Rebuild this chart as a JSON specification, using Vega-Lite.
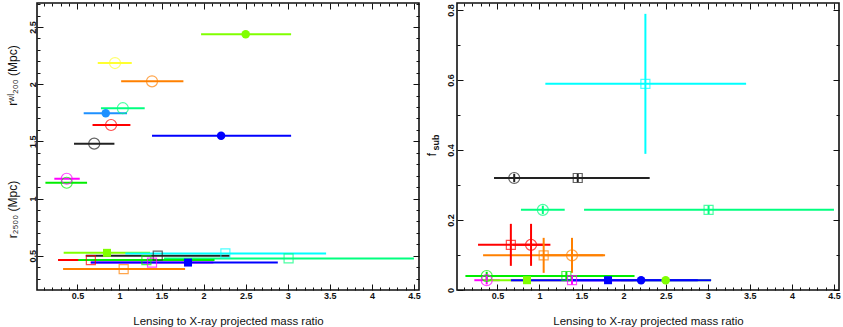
{
 "$schema": "https://vega.github.io/schema/vega-lite/v6.json",
 "background": "white",
 "padding": {"left": 5, "top": 1, "right": 5, "bottom": 0},
 "bounds": "flush",
 "spacing": 38,
 "config": {
  "view": {"stroke": "#111", "strokeWidth": 1.6},
  "font": "Liberation Sans",
  "axis": {"grid": false, "domain": false, "tickColor": "#111", "tickWidth": 1, "labelColor": "#111", "labelFont": "Liberation Sans", "labelFontSize": 9, "labelFontWeight": "bold", "labelOverlap": false, "labelFlush": false, "titleColor": "#111", "titleFont": "Liberation Sans", "titleFontWeight": "normal", "titleFontSize": 12}
 },
 "datasets": {
  "pts": [
   {"c": "c1", "k": "c", "fl": 0, "x": 0.70, "lo": 0.46, "hi": 0.94, "r": 1.48, "f": 0.32, "flo": 0.308, "fhi": 0.332},
   {"c": "c1", "k": "s", "fl": 0, "x": 1.455, "lo": 0.60, "hi": 2.31, "r": 0.50, "f": 0.32, "flo": 0.308, "fhi": 0.332},
   {"c": "c2", "k": "c", "fl": 0, "x": 1.04, "lo": 0.78, "hi": 1.30, "r": 1.79, "f": 0.229, "flo": 0.217, "fhi": 0.241},
   {"c": "c2", "k": "s", "fl": 0, "x": 3.01, "lo": 1.53, "hi": 4.50, "r": 0.476, "f": 0.229, "flo": 0.217, "fhi": 0.241},
   {"c": "c3", "k": "c", "fl": 0, "x": 0.90, "lo": 0.68, "hi": 1.13, "r": 1.643, "f": 0.129, "flo": 0.069, "fhi": 0.189},
   {"c": "c3", "k": "s", "fl": 0, "x": 0.66, "lo": 0.27, "hi": 1.05, "r": 0.462, "f": 0.129, "flo": 0.069, "fhi": 0.189},
   {"c": "c4", "k": "c", "fl": 0, "x": 1.387, "lo": 1.02, "hi": 1.76, "r": 2.025, "f": 0.099, "flo": 0.049, "fhi": 0.149},
   {"c": "c4", "k": "s", "fl": 0, "x": 1.05, "lo": 0.33, "hi": 1.78, "r": 0.383, "f": 0.099, "flo": 0.049, "fhi": 0.149},
   {"c": "c5", "k": "c", "fl": 0, "x": 0.373, "lo": 0.12, "hi": 0.615, "r": 1.138, "f": 0.04, "flo": 0.028, "fhi": 0.052},
   {"c": "c5", "k": "s", "fl": 0, "x": 1.32, "lo": 0.51, "hi": 2.13, "r": 0.462, "f": 0.04, "flo": 0.028, "fhi": 0.052},
   {"c": "c6", "k": "c", "fl": 0, "x": 0.373, "lo": 0.226, "hi": 0.528, "r": 1.173, "f": 0.028, "flo": 0.016, "fhi": 0.04},
   {"c": "c6", "k": "s", "fl": 0, "x": 1.387, "lo": 0.654, "hi": 2.116, "r": 0.44, "f": 0.028, "flo": 0.016, "fhi": 0.04},
   {"c": "c7", "k": "c", "fl": 1, "x": 2.50, "lo": 1.97, "hi": 3.04, "r": 2.436, "f": 0.028, "flo": null, "fhi": null},
   {"c": "c7", "k": "s", "fl": 1, "x": 0.852, "lo": 0.337, "hi": 1.364, "r": 0.525, "f": 0.028, "flo": null, "fhi": null},
   {"c": "c8", "k": "c", "fl": 1, "x": 2.208, "lo": 1.387, "hi": 3.04, "r": 1.549, "f": 0.028, "flo": null, "fhi": null},
   {"c": "c8", "k": "s", "fl": 1, "x": 1.815, "lo": 0.662, "hi": 2.882, "r": 0.44, "f": 0.028, "flo": null, "fhi": null},
   {"c": "c9", "k": "c", "fl": 0, "x": 0.947, "lo": 0.742, "hi": 1.146, "r": 2.185, "f": null, "flo": null, "fhi": null},
   {"c": "c10", "k": "c", "fl": 1, "x": 0.837, "lo": 0.575, "hi": 1.09, "r": 1.745, "f": null, "flo": null, "fhi": null},
   {"c": "c11", "k": "s", "fl": 0, "x": 2.259, "lo": 1.07, "hi": 3.456, "r": 0.52, "f": 0.589, "flo": 0.389, "fhi": 0.789}
  ]
 },
 "hconcat": [
  {
   "width": 382, "height": 287,
   "data": {"name": "pts"},
   "resolve": {"axis": {"x": "independent", "y": "independent"}},
   "layer": [
    {
     "mark": {"type": "rule", "strokeWidth": 2},
     "encoding": {
      "x": {"field": "lo", "type": "quantitative", "scale": {"domain": [0.02, 4.56], "nice": false, "zero": false},
       "axis": {"orient": "bottom", "values": [0.5,1,1.5,2,2.5,3,3.5,4,4.5], "format": "~g", "tickSize": -6,
        "labelPadding": 7, "labelBaseline": "top",
        "title": "Lensing to X-ray projected mass ratio", "titleFontSize": 11.5, "titleY": 34, "titleBaseline": "alphabetic"}},
      "x2": {"field": "hi"},
      "y": {"field": "r", "type": "quantitative", "scale": {"domain": [0.2, 2.71], "nice": false, "zero": false},
       "axis": {"orient": "left", "values": [0.5,1,1.5,2,2.5], "format": "~g", "tickSize": -6,
        "labelAngle": 270, "labelAlign": "center", "labelBaseline": "alphabetic", "labelPadding": 8,
        "title": "rʷˡ₂₀₀ (Mpc)", "titleX": -25, "titleY": 72, "titleAngle": 270, "titleAlign": "center", "titleBaseline": "middle"}},
      "color": {"field": "c", "type": "nominal", "legend": null,
       "scale": {"domain": ["c1","c2","c3","c4","c5","c6","c7","c8","c9","c10","c11"], "range": ["#222222","#00ff7f","#ff0000","#ff8000","#00ee00","#ff00ff","#80ff00","#0000ff","#ffff30","#1e90ff","#00ffff"]}}
     }
    },
    {
     "transform": [{"filter": "datum.k=='c' && datum.fl==0"}],
     "mark": {"type": "point", "shape": "circle", "filled": false, "size": 121, "strokeWidth": 1.2},
     "encoding": {
      "x": {"field": "x", "type": "quantitative", "scale": {"domain": [0.02, 4.56], "nice": false, "zero": false},
       "axis": {"orient": "top", "values": [0.5,1,1.5,2,2.5,3,3.5,4,4.5], "labels": false, "title": null, "tickSize": -6}},
      "y": {"field": "r", "type": "quantitative", "scale": {"domain": [0.2, 2.71], "nice": false, "zero": false},
       "axis": {"orient": "right", "values": [0.5,1,1.5,2,2.5], "labels": false, "title": null, "tickSize": -6}},
      "color": {"field": "c", "type": "nominal", "legend": null}
     }
    },
    {
     "transform": [{"filter": "datum.k=='c' && datum.fl==1"}],
     "mark": {"type": "point", "shape": "circle", "filled": true, "size": 72, "opacity": 1},
     "encoding": {
      "x": {"field": "x", "type": "quantitative", "scale": {"domain": [0.02, 4.56], "nice": false, "zero": false},
       "axis": {"orient": "bottom", "values": [0.1,0.2,0.3,0.4,0.6,0.7,0.8,0.9,1.1,1.2,1.3,1.4,1.6,1.7,1.8,1.9,2.1,2.2,2.3,2.4,2.6,2.7,2.8,2.9,3.1,3.2,3.3,3.4,3.6,3.7,3.8,3.9,4.1,4.2,4.3,4.4], "labels": false, "title": null, "tickSize": -3}},
      "y": {"field": "r", "type": "quantitative", "scale": {"domain": [0.2, 2.71], "nice": false, "zero": false},
       "axis": {"orient": "left", "values": [0.3,0.4,0.6,0.7,0.8,0.9,1.1,1.2,1.3,1.4,1.6,1.7,1.8,1.9,2.1,2.2,2.3,2.4,2.6,2.7], "labels": false, "tickSize": -3,
        "title": "r₂₅₀₀ (Mpc)", "titleX": -25, "titleY": 206, "titleAngle": 270, "titleAlign": "center", "titleBaseline": "middle"}},
      "color": {"field": "c", "type": "nominal", "legend": null}
     }
    },
    {
     "transform": [{"filter": "datum.k=='s' && datum.fl==0"}],
     "mark": {"type": "point", "shape": "square", "filled": false, "size": 81, "strokeWidth": 1.2},
     "encoding": {
      "x": {"field": "x", "type": "quantitative", "scale": {"domain": [0.02, 4.56], "nice": false, "zero": false},
       "axis": {"orient": "top", "values": [0.1,0.2,0.3,0.4,0.6,0.7,0.8,0.9,1.1,1.2,1.3,1.4,1.6,1.7,1.8,1.9,2.1,2.2,2.3,2.4,2.6,2.7,2.8,2.9,3.1,3.2,3.3,3.4,3.6,3.7,3.8,3.9,4.1,4.2,4.3,4.4], "labels": false, "title": null, "tickSize": -3}},
      "y": {"field": "r", "type": "quantitative", "scale": {"domain": [0.2, 2.71], "nice": false, "zero": false},
       "axis": {"orient": "right", "values": [0.3,0.4,0.6,0.7,0.8,0.9,1.1,1.2,1.3,1.4,1.6,1.7,1.8,1.9,2.1,2.2,2.3,2.4,2.6,2.7], "labels": false, "title": null, "tickSize": -3}},
      "color": {"field": "c", "type": "nominal", "legend": null}
     }
    },
    {
     "transform": [{"filter": "datum.k=='s' && datum.fl==1"}],
     "mark": {"type": "point", "shape": "square", "filled": true, "size": 64, "opacity": 1},
     "encoding": {
      "x": {"field": "x", "type": "quantitative", "scale": {"domain": [0.02, 4.56], "nice": false, "zero": false}, "axis": null},
      "y": {"field": "r", "type": "quantitative", "scale": {"domain": [0.2, 2.71], "nice": false, "zero": false}, "axis": null},
      "color": {"field": "c", "type": "nominal", "legend": null}
     }
    }
   ]
  },
  {
   "width": 382, "height": 287,
   "data": {"name": "pts"},
   "transform": [{"filter": "isValid(datum.f)"}],
   "resolve": {"axis": {"x": "independent", "y": "independent"}},
   "layer": [
    {
     "mark": {"type": "rule", "strokeWidth": 2},
     "encoding": {
      "x": {"field": "lo", "type": "quantitative", "scale": {"domain": [0.02, 4.56], "nice": false, "zero": false},
       "axis": {"orient": "bottom", "values": [0.5,1,1.5,2,2.5,3,3.5,4,4.5], "format": "~g", "tickSize": -6,
        "labelPadding": 7, "labelBaseline": "top",
        "title": "Lensing to X-ray projected mass ratio", "titleFontSize": 11.5, "titleY": 34, "titleBaseline": "alphabetic"}},
      "x2": {"field": "hi"},
      "y": {"field": "f", "type": "quantitative", "scale": {"domain": [0, 0.82], "nice": false, "zero": false},
       "axis": {"orient": "left", "values": [0,0.2,0.4,0.6,0.8], "format": "~g", "tickSize": -6,
        "labelAngle": 270, "labelAlign": "center", "labelBaseline": "alphabetic", "labelPadding": 10,
        "title": "f", "titleX": -26, "titleY": 151, "titleAngle": 270, "titleAlign": "center", "titleBaseline": "middle"}},
      "color": {"field": "c", "type": "nominal", "legend": null}
     }
    },
    {
     "transform": [{"filter": "isValid(datum.flo)"}],
     "mark": {"type": "rule", "strokeWidth": 2},
     "encoding": {
      "x": {"field": "x", "type": "quantitative", "scale": {"domain": [0.02, 4.56], "nice": false, "zero": false},
       "axis": {"orient": "top", "values": [0.5,1,1.5,2,2.5,3,3.5,4,4.5], "labels": false, "title": null, "tickSize": -6}},
      "y": {"field": "flo", "type": "quantitative", "scale": {"domain": [0, 0.82], "nice": false, "zero": false},
       "axis": {"orient": "right", "values": [0,0.2,0.4,0.6,0.8], "labels": false, "title": null, "tickSize": -6}},
      "y2": {"field": "fhi"},
      "color": {"field": "c", "type": "nominal", "legend": null}
     }
    },
    {
     "transform": [{"filter": "datum.k=='c' && datum.fl==0"}],
     "mark": {"type": "point", "shape": "circle", "filled": false, "size": 121, "strokeWidth": 1.2},
     "encoding": {
      "x": {"field": "x", "type": "quantitative", "scale": {"domain": [0.02, 4.56], "nice": false, "zero": false},
       "axis": {"orient": "bottom", "values": [0.1,0.2,0.3,0.4,0.6,0.7,0.8,0.9,1.1,1.2,1.3,1.4,1.6,1.7,1.8,1.9,2.1,2.2,2.3,2.4,2.6,2.7,2.8,2.9,3.1,3.2,3.3,3.4,3.6,3.7,3.8,3.9,4.1,4.2,4.3,4.4], "labels": false, "title": null, "tickSize": -3}},
      "y": {"field": "f", "type": "quantitative", "scale": {"domain": [0, 0.82], "nice": false, "zero": false},
       "axis": {"orient": "left", "values": [0.1,0.3,0.5,0.7], "labels": false, "tickSize": -3,
        "title": "sub", "titleFontSize": 9, "titleFontWeight": "bold", "titleX": -22, "titleY": 139, "titleAngle": 270, "titleAlign": "center", "titleBaseline": "middle"}},
      "color": {"field": "c", "type": "nominal", "legend": null}
     }
    },
    {
     "transform": [{"filter": "datum.k=='c' && datum.fl==1"}],
     "mark": {"type": "point", "shape": "circle", "filled": true, "size": 72, "opacity": 1},
     "encoding": {
      "x": {"field": "x", "type": "quantitative", "scale": {"domain": [0.02, 4.56], "nice": false, "zero": false},
       "axis": {"orient": "top", "values": [0.1,0.2,0.3,0.4,0.6,0.7,0.8,0.9,1.1,1.2,1.3,1.4,1.6,1.7,1.8,1.9,2.1,2.2,2.3,2.4,2.6,2.7,2.8,2.9,3.1,3.2,3.3,3.4,3.6,3.7,3.8,3.9,4.1,4.2,4.3,4.4], "labels": false, "title": null, "tickSize": -3}},
      "y": {"field": "f", "type": "quantitative", "scale": {"domain": [0, 0.82], "nice": false, "zero": false},
       "axis": {"orient": "right", "values": [0.1,0.3,0.5,0.7], "labels": false, "title": null, "tickSize": -3}},
      "color": {"field": "c", "type": "nominal", "legend": null}
     }
    },
    {
     "transform": [{"filter": "datum.k=='s' && datum.fl==0"}],
     "mark": {"type": "point", "shape": "square", "filled": false, "size": 81, "strokeWidth": 1.2},
     "encoding": {
      "x": {"field": "x", "type": "quantitative", "scale": {"domain": [0.02, 4.56], "nice": false, "zero": false}, "axis": null},
      "y": {"field": "f", "type": "quantitative", "scale": {"domain": [0, 0.82], "nice": false, "zero": false}, "axis": null},
      "color": {"field": "c", "type": "nominal", "legend": null}
     }
    },
    {
     "transform": [{"filter": "datum.k=='s' && datum.fl==1"}],
     "mark": {"type": "point", "shape": "square", "filled": true, "size": 64, "opacity": 1},
     "encoding": {
      "x": {"field": "x", "type": "quantitative", "scale": {"domain": [0.02, 4.56], "nice": false, "zero": false}, "axis": null},
      "y": {"field": "f", "type": "quantitative", "scale": {"domain": [0, 0.82], "nice": false, "zero": false}, "axis": null},
      "color": {"field": "c", "type": "nominal", "legend": null}
     }
    }
   ]
  }
 ]
}
